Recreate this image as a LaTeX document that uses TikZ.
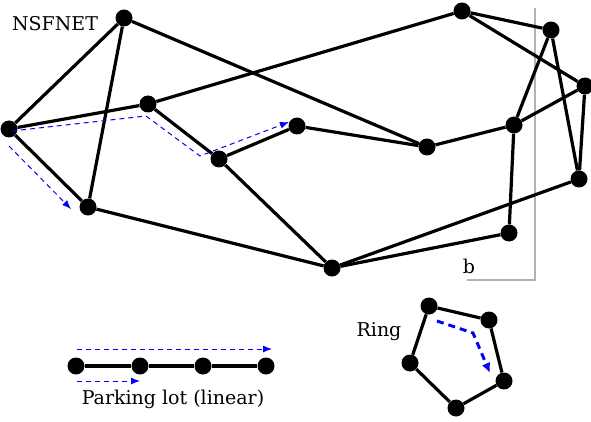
\documentclass[tikz,border=0pt]{standalone}
\usepackage{fontspec}
\setmainfont{DejaVu Serif}
\usetikzlibrary{arrows.meta}
\begin{document}
\begin{tikzpicture}[x=1pt,y=-1pt,
  nd/.style={circle,fill=black,inner sep=0pt,minimum size=17pt},
  ed/.style={line width=3.2pt},
  bd/.style={blue,dashed,line width=1pt,dash pattern=on 5pt off 4pt,-{Latex[length=9pt,width=7pt]}},
  bdt/.style={blue,line width=3pt,dash pattern=on 7pt off 5pt,-{Latex[length=10pt,width=9pt]}},
  lbl/.style={font=\fontsize{19pt}{22pt}\selectfont}]
\useasboundingbox (0,0) rectangle (591,422);
% gray bracket
\draw[gray!60,line width=2pt] (535,8) -- (535,280) -- (467,280);
\node[lbl] (blab) at (469,266) {b};
% NSFNET nodes
\node[nd] (A) at (124,18) {};
\node[nd] (B) at (9,129) {};
\node[nd] (C) at (148,104) {};
\node[nd] (D) at (88,207) {};
\node[nd] (E) at (219,159) {};
\node[nd] (F) at (297,126) {};
\node[nd] (G) at (332,268) {};
\node[nd] (H) at (427,147) {};
\node[nd] (I) at (462,11) {};
\node[nd] (J) at (551,30) {};
\node[nd] (K) at (585,86) {};
\node[nd] (L) at (514,125) {};
\node[nd] (M) at (579,179) {};
\node[nd] (N) at (509,233) {};
\foreach \a/\b in {A/B,A/D,A/H,B/C,B/D,C/I,C/E,E/F,E/G,F/H,H/L,L/J,L/K,L/N,I/J,I/K,J/M,K/M,D/G,G/M,G/N}
  \draw[ed] (\a) -- (\b);
\node[lbl] (nsf) at (55,24) {NSFNET};
% blue dashed paths
\coordinate (p1) at (12,131);
\coordinate (p2) at (146,116);
\coordinate (p3) at (200,156);
\coordinate (p4) at (289,122);
\draw[bd] (p1) -- (p2) -- (p3) -- (p4);
\coordinate (q1) at (9,146);
\coordinate (q2) at (71,209);
\draw[bd] (q1) -- (q2);
% Ring
\node[nd] (R1) at (429,306) {};
\node[nd] (R2) at (489,320) {};
\node[nd] (R3) at (504,381) {};
\node[nd] (R4) at (456,408) {};
\node[nd] (R5) at (410,363) {};
\draw[ed] (R1) -- (R2) -- (R3) -- (R4) -- (R5) -- (R1);
\coordinate (r1) at (437,321);
\coordinate (r2) at (473,333);
\coordinate (r3) at (490,373);
\draw[bdt] (r1) -- (r2) -- (r3);
\node[lbl] (ring) at (379,332) {Ring};
% Parking lot
\node[nd] (P1) at (76,366) {};
\node[nd] (P2) at (140,366) {};
\node[nd] (P3) at (203,366) {};
\node[nd] (P4) at (266,366) {};
\draw[ed] (P1) -- (P2) -- (P3) -- (P4);
\coordinate (s1) at (77,349);
\coordinate (s2) at (272,349);
\draw[bd] (s1) -- (s2);
\coordinate (t1) at (77,381);
\coordinate (t2) at (140,381);
\draw[bd] (t1) -- (t2);
\node[lbl] (pl) at (173,399) {Parking lot (linear)};
\end{tikzpicture}
\end{document}
